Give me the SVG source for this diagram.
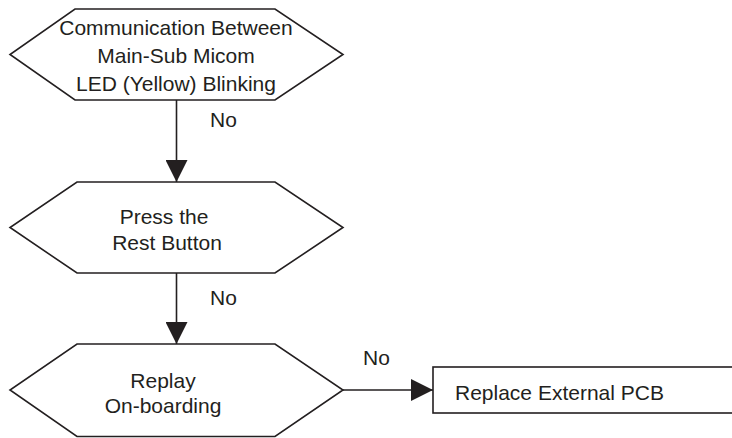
<svg xmlns="http://www.w3.org/2000/svg" width="732" height="438" viewBox="0 0 732 438">
<defs>
<style>
.shape{fill:#fff;stroke:#231f20;stroke-width:1.6}
.t{font-family:"Liberation Sans",Arial,sans-serif;font-size:21px;fill:#231f20}
.c{text-anchor:middle}
.line{stroke:#231f20;stroke-width:1.6;fill:none}
</style>
<marker id="arr" viewBox="0 0 22 22" refX="22" refY="11" markerWidth="22" markerHeight="22" markerUnits="userSpaceOnUse" orient="auto">
<path d="M0,0 L22,11 L0,22 Z" fill="#231f20"/>
</marker>
</defs>
<rect width="732" height="438" fill="#fff"/>
<g id="connectors">
<line class="line" x1="176.5" y1="100" x2="176.5" y2="182" marker-end="url(#arr)"/>
<line class="line" x1="176.5" y1="273" x2="176.5" y2="344" marker-end="url(#arr)"/>
<line class="line" x1="343" y1="390" x2="433" y2="390" marker-end="url(#arr)"/>
<text class="t" x="210" y="127">No</text>
<text class="t" x="210" y="305">No</text>
<text class="t" x="363" y="365">No</text>
</g>
<g id="node1">
<polygon class="shape" points="75,9 275,9 343,54.5 275,100 75,100 10,54.5"/>
<text class="t c" x="176" y="35">Communication Between</text>
<text class="t c" x="176" y="63">Main-Sub Micom</text>
<text class="t c" x="176" y="91">LED (Yellow) Blinking</text>
</g>
<g id="node2">
<polygon class="shape" points="77,182 275,182 343,227.5 275,273 77,273 10,227.5"/>
<text class="t c" x="164" y="224">Press the</text>
<text class="t c" x="167" y="250">Rest Button</text>
</g>
<g id="node3">
<polygon class="shape" points="77,344 275,344 343,390 275,436.5 77,436.5 10,390"/>
<text class="t c" x="163" y="388">Replay</text>
<text class="t c" x="163" y="413">On-boarding</text>
</g>
<g id="node4">
<rect class="shape" x="433" y="367" width="302" height="46"/>
<text class="t" x="455" y="400">Replace External PCB</text>
</g>
</svg>
